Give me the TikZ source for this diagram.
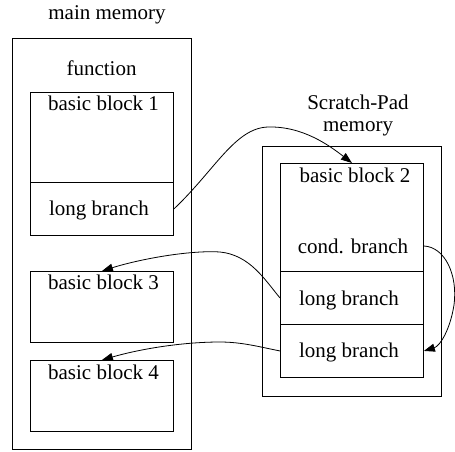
\documentclass[tikz,border=0pt]{standalone}
\usepackage{fontspec}
\newfontfamily\labelfont{Liberation Serif}
\usetikzlibrary{arrows.meta}
\begin{document}
\begin{tikzpicture}[x=1pt,y=-1pt,
  every node/.style={font=\labelfont\fontsize{21}{24}\selectfont},
  box/.style={draw,line width=0.9pt,rectangle,inner sep=0pt,anchor=north west},
  lbl/.style={inner sep=0pt,anchor=center},
  link/.style={draw,line width=0.8pt,-{Triangle[length=11pt,width=8pt]}}]
\useasboundingbox (0,0) rectangle (455,451);
% main memory with its function blocks
\node[lbl] (mmtitle) at (107,15) {main memory};
\node[box,minimum width=179pt,minimum height=411pt] (mm) at (12,38) {};
\node[lbl] (fn) at (101.5,68) {function};
\node[box,minimum width=143pt,minimum height=90pt] (bb1) at (30,92) {};
\node[lbl] at (103.5,103) {basic block 1};
\node[box,minimum width=143pt,minimum height=53pt] (bb1lb) at (30,182) {};
\node[lbl] at (99,210) {long branch};
\node[box,minimum width=143pt,minimum height=71pt] (bb3) at (30,271) {};
\node[lbl] at (103.5,282) {basic block 3};
\node[box,minimum width=143pt,minimum height=71pt] (bb4) at (30,360) {};
\node[lbl] at (103.5,372) {basic block 4};
% scratch-pad memory
\node[lbl,align=center] (sptitle) at (358,115) {Scratch-Pad\\[-2pt]memory};
\node[box,minimum width=179pt,minimum height=250pt] (sp) at (262,146) {};
\node[box,minimum width=143pt,minimum height=108pt] (bb2) at (280,163) {};
\node[lbl] at (355,175) {basic block 2};
\node[lbl] (cond) at (353,246) {cond. branch};
\node[box,minimum width=143pt,minimum height=53pt] (lb1) at (280,271) {};
\node[lbl] at (349,300) {long branch};
\node[box,minimum width=143pt,minimum height=53pt] (lb2) at (280,324) {};
\node[lbl] at (349,352) {long branch};
% branch targets
\coordinate (condout) at (bb2.east |- cond.center);
\draw[link] (bb1lb.east) .. controls (215,170) and (235,128) .. (268,127)
  .. controls (303,126) and (330,146) .. (bb2.north);
\draw[link] (condout) .. controls (445,247) and (458,275) .. (454,305)
  .. controls (450,330) and (440,346) .. (lb2.east);
\draw[link] (lb1.west) .. controls (265,280) and (250,255) .. (220,252)
  .. controls (190,250) and (140,259) .. (bb3.north);
\draw[link] (lb2.west) .. controls (260,347) and (242,342) .. (220,342)
  .. controls (182,342) and (140,349) .. (bb4.north);
\end{tikzpicture}
\end{document}
